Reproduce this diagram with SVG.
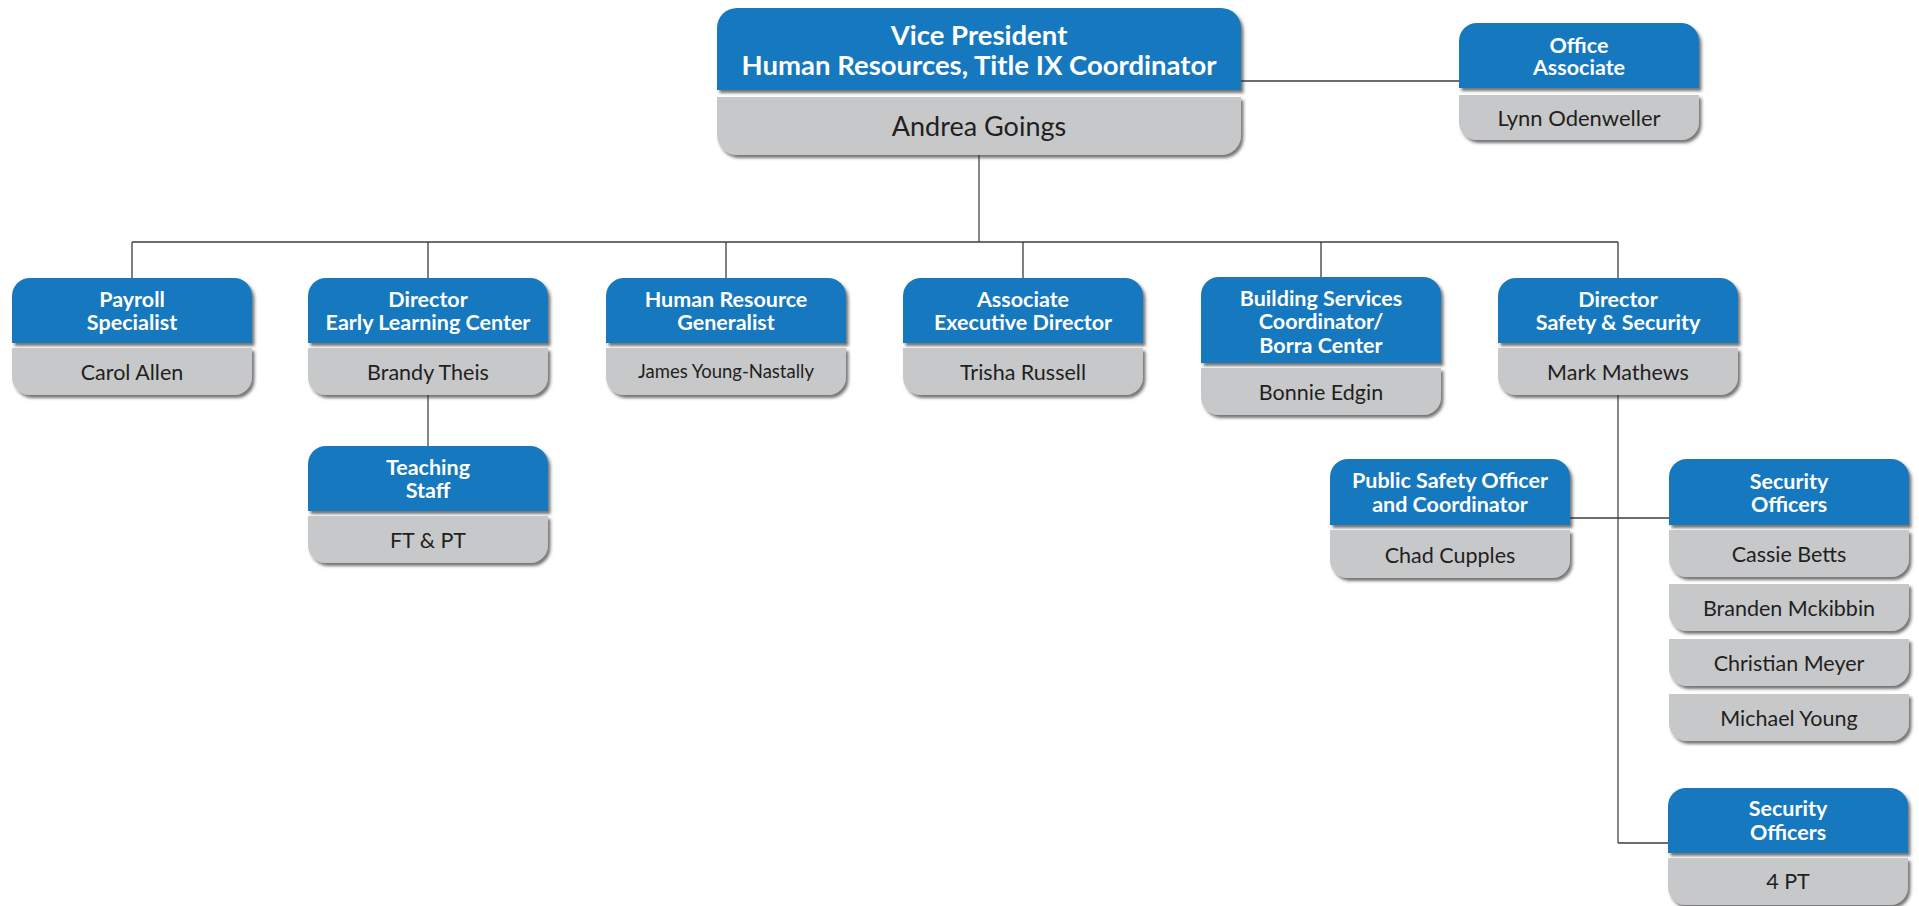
<svg xmlns="http://www.w3.org/2000/svg" width="1919" height="906" viewBox="0 0 1919 906">
<defs>
<filter id="sh" x="-5%" y="-10%" width="115%" height="130%">
<feDropShadow dx="2.5" dy="3" stdDeviation="1.4" flood-color="#2a2a2a" flood-opacity="0.65"/>
</filter>
<style>
.hd{fill:#1378be;filter:url(#sh)}
.bd{fill:#c7c8ca;filter:url(#sh)}
.t{font-family:Lato,"Liberation Sans",sans-serif;font-weight:700;fill:#ffffff;font-size:21.5px;text-anchor:middle}
.n{font-family:Lato,"Liberation Sans",sans-serif;fill:#231f20;font-size:21.5px;text-anchor:middle}
.c1{fill:none;stroke:#3c3c3c;stroke-width:1.3}
.c2{fill:none;stroke:#7a7a7a;stroke-width:1.8}
</style>
</defs>
<rect width="1919" height="906" fill="#ffffff"/>
<g id="connectors">
<path class="c1" d="M1241 81H1459"/>
<path class="c2" d="M979 155V242"/>
<path class="c1" d="M132 242H1618"/>
<path class="c1" d="M132 242V278M428 242V278M726 242V278M1023 242V278M1321 242V277M1618 242V278"/>
<path class="c2" d="M428 395V446"/>
<path class="c2" d="M1618 395V843"/>
<path class="c1" d="M1618 843H1668"/>
<path class="c1" d="M1570 518H1669"/>
</g>
<g id="vp">
<path class="hd" d="M717 90V28A20 20 0 0 1 737 8H1221A20 20 0 0 1 1241 28V90Z"/>
<path class="bd" d="M717 97H1241V135A20 20 0 0 1 1221 155H737A20 20 0 0 1 717 135Z"/>
<text class="t" x="979" y="44.5" style="font-size:27.5px">Vice President</text>
<text class="t" x="979" y="74.5" style="font-size:27.5px">Human Resources, Title IX Coordinator</text>
<text class="n" x="979" y="135.5" style="font-size:27px">Andrea Goings</text>
</g>
<g id="office">
<path class="hd" d="M1459 88V41A18 18 0 0 1 1477 23H1681A18 18 0 0 1 1699 41V88Z"/>
<path class="bd" d="M1459 95H1699V122A18 18 0 0 1 1681 140H1477A18 18 0 0 1 1459 122Z"/>
<text class="t" x="1579" y="52.5">Office</text>
<text class="t" x="1579" y="75">Associate</text>
<text class="n" x="1579" y="125.5" style="font-size:22px">Lynn Odenweller</text>
</g>
<g id="payroll">
<path class="hd" d="M12 343V296A18 18 0 0 1 30 278H234A18 18 0 0 1 252 296V343Z"/>
<path class="bd" d="M12 348H252V377A18 18 0 0 1 234 395H30A18 18 0 0 1 12 377Z"/>
<text class="t" x="132" y="306.5">Payroll</text>
<text class="t" x="132" y="329.5">Specialist</text>
<text class="n" x="132" y="379.5">Carol Allen</text>
</g>
<g id="elc">
<path class="hd" d="M308 343V296A18 18 0 0 1 326 278H530A18 18 0 0 1 548 296V343Z"/>
<path class="bd" d="M308 348H548V377A18 18 0 0 1 530 395H326A18 18 0 0 1 308 377Z"/>
<text class="t" x="428" y="306.5">Director</text>
<text class="t" x="428" y="329.5">Early Learning Center</text>
<text class="n" x="428" y="379.5">Brandy Theis</text>
</g>
<g id="teaching">
<path class="hd" d="M308 511V464A18 18 0 0 1 326 446H530A18 18 0 0 1 548 464V511Z"/>
<path class="bd" d="M308 516H548V545A18 18 0 0 1 530 563H326A18 18 0 0 1 308 545Z"/>
<text class="t" x="428" y="474.5">Teaching</text>
<text class="t" x="428" y="497.5">Staff</text>
<text class="n" x="428" y="547.5">FT &amp; PT</text>
</g>
<g id="hr">
<path class="hd" d="M606 343V296A18 18 0 0 1 624 278H828A18 18 0 0 1 846 296V343Z"/>
<path class="bd" d="M606 348H846V377A18 18 0 0 1 828 395H624A18 18 0 0 1 606 377Z"/>
<text class="t" x="726" y="306.5">Human Resource</text>
<text class="t" x="726" y="329.5">Generalist</text>
<text class="n" x="726" y="378" style="font-size:18.5px">James Young-Nastally</text>
</g>
<g id="assoc">
<path class="hd" d="M903 343V296A18 18 0 0 1 921 278H1125A18 18 0 0 1 1143 296V343Z"/>
<path class="bd" d="M903 348H1143V377A18 18 0 0 1 1125 395H921A18 18 0 0 1 903 377Z"/>
<text class="t" x="1023" y="306.5">Associate</text>
<text class="t" x="1023" y="329.5">Executive Director</text>
<text class="n" x="1023" y="379.5">Trisha Russell</text>
</g>
<g id="building">
<path class="hd" d="M1201 363V295A18 18 0 0 1 1219 277H1423A18 18 0 0 1 1441 295V363Z"/>
<path class="bd" d="M1201 368H1441V397A18 18 0 0 1 1423 415H1219A18 18 0 0 1 1201 397Z"/>
<text class="t" x="1321" y="305.5">Building Services</text>
<text class="t" x="1321" y="329">Coordinator/</text>
<text class="t" x="1321" y="352.5">Borra Center</text>
<text class="n" x="1321" y="399.5">Bonnie Edgin</text>
</g>
<g id="safety">
<path class="hd" d="M1498 343V296A18 18 0 0 1 1516 278H1720A18 18 0 0 1 1738 296V343Z"/>
<path class="bd" d="M1498 348H1738V377A18 18 0 0 1 1720 395H1516A18 18 0 0 1 1498 377Z"/>
<text class="t" x="1618" y="306.5">Director</text>
<text class="t" x="1618" y="329.5">Safety &amp; Security</text>
<text class="n" x="1618" y="379.5">Mark Mathews</text>
</g>
<g id="public-safety">
<path class="hd" d="M1330 525V477A18 18 0 0 1 1348 459H1552A18 18 0 0 1 1570 477V525Z"/>
<path class="bd" d="M1330 530H1570V560A18 18 0 0 1 1552 578H1348A18 18 0 0 1 1330 560Z"/>
<text class="t" x="1450" y="487.5">Public Safety Officer</text>
<text class="t" x="1450" y="511.5">and Coordinator</text>
<text class="n" x="1450" y="562.5">Chad Cupples</text>
</g>
<g id="security-officers">
<path class="hd" d="M1669 525V477A18 18 0 0 1 1687 459H1891A18 18 0 0 1 1909 477V525Z"/>
<path class="bd" d="M1669 530H1909V559A18 18 0 0 1 1891 577H1687A18 18 0 0 1 1669 559Z"/>
<path class="bd" d="M1669 584H1909V613A18 18 0 0 1 1891 631H1687A18 18 0 0 1 1669 613Z"/>
<path class="bd" d="M1669 639H1909V668A18 18 0 0 1 1891 686H1687A18 18 0 0 1 1669 668Z"/>
<path class="bd" d="M1669 694H1909V723A18 18 0 0 1 1891 741H1687A18 18 0 0 1 1669 723Z"/>
<text class="t" x="1789" y="488.5">Security</text>
<text class="t" x="1789" y="511.5">Officers</text>
<text class="n" x="1789" y="561.5">Cassie Betts</text>
<text class="n" x="1789" y="615.5">Branden Mckibbin</text>
<text class="n" x="1789" y="670.5">Christian Meyer</text>
<text class="n" x="1789" y="725.5">Michael Young</text>
</g>
<g id="security-pt">
<path class="hd" d="M1668 853V806A18 18 0 0 1 1686 788H1890A18 18 0 0 1 1908 806V853Z"/>
<path class="bd" d="M1668 858H1908V887A18 18 0 0 1 1890 905H1686A18 18 0 0 1 1668 887Z"/>
<text class="t" x="1788" y="815.5">Security</text>
<text class="t" x="1788" y="839.5">Officers</text>
<text class="n" x="1788" y="888.5">4 PT</text>
</g>
</svg>
